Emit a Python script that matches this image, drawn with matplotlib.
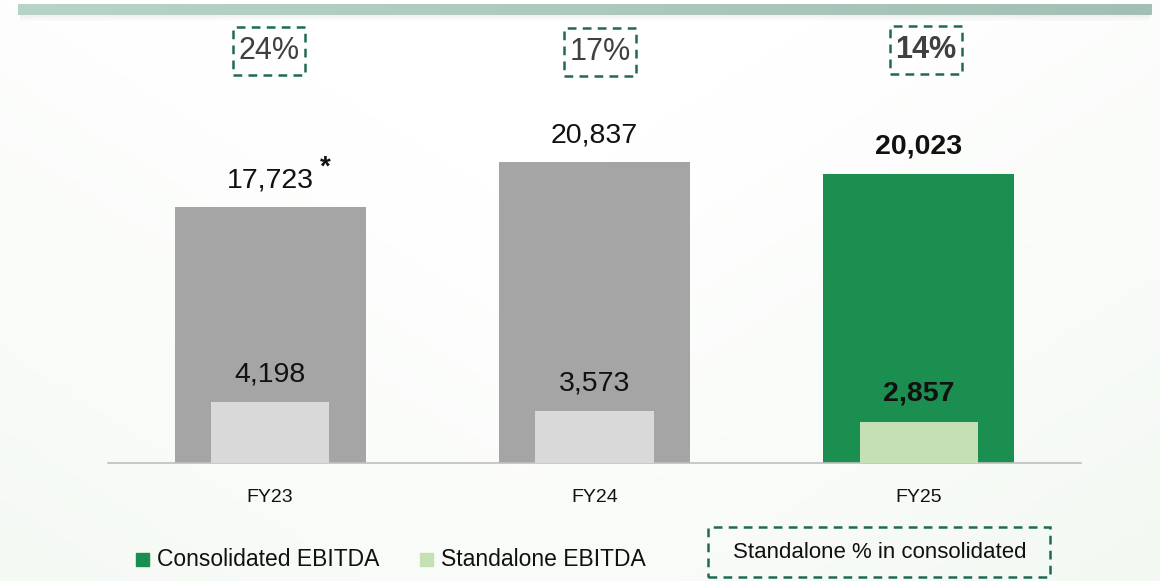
import numpy as np
import matplotlib
matplotlib.use("Agg")
import matplotlib.pyplot as plt
from matplotlib.patches import Rectangle

plt.rcParams["font.family"] = ["Liberation Sans", "DejaVu Sans"]

years = ["FY23", "FY24", "FY25"]
consolidated = [17723, 20837, 20023]
standalone = [4198, 3573, 2857]
share_pct = ["24%", "17%", "14%"]

GRAY, LGRAY = "#a5a5a5", "#d9d9d9"
GREEN, LGREEN = "#1b8f50", "#c5e0b4"
DASH = "#1f6b52"
TXT = "#111111"

W, H = 1160, 581
fig = plt.figure(figsize=(W / 100, H / 100), dpi=100)
fig.patch.set_facecolor("white")

# faint greenish background wash
bg = fig.add_axes([0, 0, 1, 1], zorder=-5)
gx = np.linspace(0, 1, 200)
gy = np.linspace(0, 1, 100)
GX, GY = np.meshgrid(gx, gy)
t = np.clip(0.55 * GY + 0.35 * np.abs(GX - 0.45) * 2 - 0.2, 0, 1)
c0 = np.array([1.0, 1.0, 1.0])
c1 = np.array([0.94, 0.965, 0.935])
img = c0[None, None, :] * (1 - t[..., None]) + c1[None, None, :] * t[..., None]
bg.imshow(img, extent=[0, 1, 0, 1], aspect="auto", origin="upper")
bg.set_xlim(0, 1); bg.set_ylim(0, 1); bg.axis("off")

# top decorative band with soft shadow below
for k, a in enumerate([0.10, 0.06, 0.03]):
    bg.add_patch(Rectangle((20 / W, 1 - (17 + 2 * k) / H), 1130 / W, 2 / H,
                           color="#6f8f80", alpha=a, lw=0, zorder=1))
band = np.linspace(0, 1, 300)[None, :]
bg.imshow(np.dstack([0.72 - 0.08 * band, 0.83 - 0.08 * band, 0.78 - 0.07 * band]),
          extent=[18 / W, 1152 / W, 1 - 15 / H, 1 - 4 / H], aspect="auto", zorder=2)

# main axes: baseline at y=463px, x-range -0.5..2.5 over 108..1081px
bottom = (H - 463) / H
ymax = 30000
px_per_unit = 301 / 20837
ax_h = ymax * px_per_unit
ax = fig.add_axes([108 / W, bottom, (1081 - 108) / W, ax_h / H])
ax.set_xlim(-0.5, 2.5)
ax.set_ylim(0, ymax)
ax.patch.set_alpha(0)
for s in ["top", "right", "left"]:
    ax.spines[s].set_visible(False)
ax.spines["bottom"].set_color("#bfbfbf")
ax.spines["bottom"].set_linewidth(1.2)
ax.set_yticks([])
ax.set_xticks([])

x = np.arange(len(years))
big_cols = [GRAY, GRAY, GREEN]
small_cols = [LGRAY, LGRAY, LGREEN]
ax.bar(x, consolidated, width=0.589, color=big_cols, zorder=2)
ax.bar(x, standalone, width=0.364, color=small_cols, zorder=3)

for i in range(len(years)):
    fw = "bold" if i == len(years) - 1 else "normal"
    ax.annotate(f"{consolidated[i]:,}", (x[i], consolidated[i]), xytext=(0, 10),
                textcoords="offset points", ha="center", va="bottom",
                fontsize=20.5, fontweight=fw, color=TXT)
    ax.annotate(f"{standalone[i]:,}", (x[i], standalone[i]), xytext=(0, 11),
                textcoords="offset points", ha="center", va="bottom",
                fontsize=20.5, fontweight=fw, color=TXT)
    ax.text(x[i], -34 / ax_h, years[i], transform=ax.get_xaxis_transform(),
            ha="center", va="center", fontsize=14, color=TXT)

# asterisk after FY23 consolidated
ax.annotate("*", (x[0], consolidated[0]), xytext=(40, 19), textcoords="offset points",
            ha="center", va="bottom", fontsize=20, fontweight="bold", color=TXT)

# percentage boxes
box_px = [(233, 27, 305, 75), (564, 28, 636, 76), (890, 26, 962, 74)]
for i, (x0, y0, x1, y1) in enumerate(box_px):
    fig.add_artist(Rectangle((x0 / W, 1 - y1 / H), (x1 - x0) / W, (y1 - y0) / H,
                             transform=fig.transFigure, fill=False, edgecolor=DASH,
                             lw=1.8, ls=(0, (3.5, 2.5))))
    fig.text((x0 + x1) / 2 / W, 1 - (y0 + y1) / 2 / H, share_pct[i],
             ha="center", va="center", fontsize=22,
             fontweight="bold" if i == 2 else "normal", color="#404040")

# legend
leg = [(136, "Consolidated EBITDA", GREEN), (420, "Standalone EBITDA", LGREEN)]
for px, lab, col in leg:
    fig.add_artist(Rectangle((px / W, 1 - 566 / H), 13 / W, 13 / H,
                             transform=fig.transFigure, color=col))
    fig.text((px + 21) / W, 1 - 560 / H, lab, ha="left", va="center",
             fontsize=16.5, color=TXT)

# bottom-right note box
fig.add_artist(Rectangle((708 / W, 1 - 577 / H), (1050 - 708) / W, (577 - 527) / H,
                         transform=fig.transFigure, fill=False, edgecolor=DASH,
                         lw=1.8, ls=(0, (3.5, 2.5))))
fig.text(880 / W, 1 - 553 / H, "Standalone % in consolidated", ha="center",
         va="center", fontsize=16, color=TXT)

fig.savefig("out.png", dpi=100)
